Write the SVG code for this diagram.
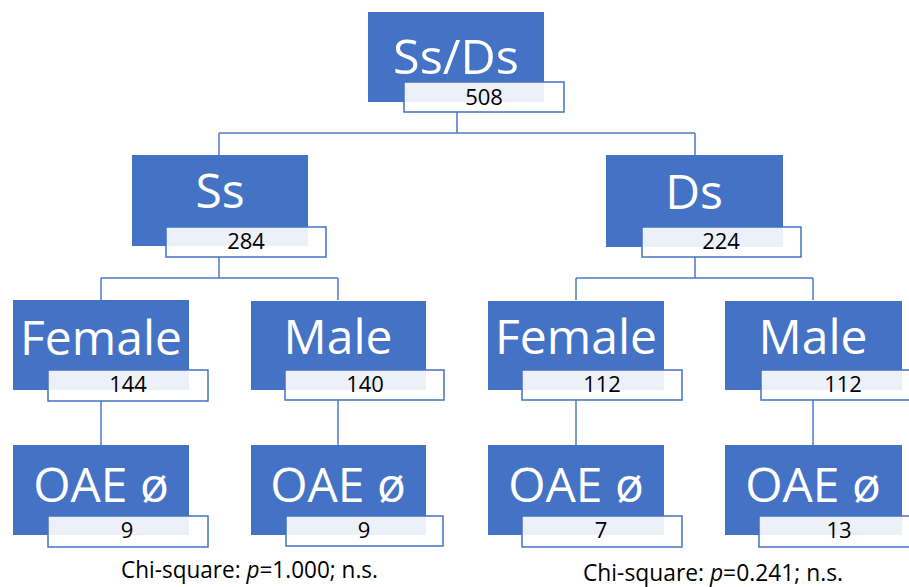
<svg xmlns="http://www.w3.org/2000/svg" width="909" height="587" viewBox="0 0 909 587">
<style>
.box{fill:#4472c4}
.lab{fill:#ffffff;fill-opacity:0.9;stroke:#4472c4;stroke-width:1.5}
.big{font-family:"Open Sans","Liberation Sans",sans-serif;font-size:48px;fill:#ffffff;text-anchor:middle}
.num{font-family:"Open Sans","Liberation Sans",sans-serif;font-size:22px;fill:#000000;text-anchor:middle}
.chi{font-family:"Open Sans","Liberation Sans",sans-serif;font-size:23px;fill:#000000}
.con{fill:none;stroke:#4f79c6;stroke-width:1.5}
</style>
<rect width="909" height="587" fill="#ffffff"/>
<g id="connectors">
<path class="con" d="M457,112 V133 M219,133 H695 M219,133 V155 M695,133 V155"/>
<path class="con" d="M219,257 V278 M101,278 H338 M101,278 V300 M338,278 V300"/>
<path class="con" d="M695,257 V278 M576,278 H813 M576,278 V300 M813,278 V300"/>
<path class="con" d="M101,400 V445 M338,400 V445 M576,400 V445 M813,400 V445"/>
</g>
<g id="root">
<rect class="box" x="368" y="12" width="176" height="90"/>
<text class="big" x="456" y="74" font-size="60" textLength="126" lengthAdjust="spacingAndGlyphs">Ss/Ds</text>
<rect class="lab" x="404" y="82" width="160" height="30"/>
<text class="num" x="484" y="105">508</text>
</g>
<g id="ss">
<rect class="box" x="132" y="155" width="176" height="91"/>
<text class="big" x="220" y="208">Ss</text>
<rect class="lab" x="166" y="227" width="160" height="30"/>
<text class="num" x="246" y="249">284</text>
</g>
<g id="ds">
<rect class="box" x="606" y="155" width="177" height="92"/>
<text class="big" x="694" y="209">Ds</text>
<rect class="lab" x="642" y="227" width="159" height="30"/>
<text class="num" x="721" y="249">224</text>
</g>
<g id="ss-female">
<rect class="box" x="13" y="300" width="176" height="90"/>
<text class="big" x="101" y="355">Female</text>
<rect class="lab" x="48" y="370" width="160" height="31"/>
<text class="num" x="128" y="392">144</text>
</g>
<g id="ss-male">
<rect class="box" x="251" y="301" width="175" height="89"/>
<text class="big" x="338" y="354">Male</text>
<rect class="lab" x="285" y="370" width="159" height="30"/>
<text class="num" x="365" y="392">140</text>
</g>
<g id="ds-female">
<rect class="box" x="488" y="301" width="176" height="89"/>
<text class="big" x="576" y="354">Female</text>
<rect class="lab" x="522" y="370" width="160" height="30"/>
<text class="num" x="602" y="392">112</text>
</g>
<g id="ds-male">
<rect class="box" x="725" y="301" width="177" height="89"/>
<text class="big" x="813" y="354">Male</text>
<rect class="lab" x="761" y="370" width="160" height="30"/>
<text class="num" x="843" y="392">112</text>
</g>
<g id="ss-female-oae">
<rect class="box" x="13" y="445" width="176" height="90"/>
<text class="big" x="101" y="502">OAE ø</text>
<rect class="lab" x="48" y="516" width="160" height="31"/>
<text class="num" x="127" y="538">9</text>
</g>
<g id="ss-male-oae">
<rect class="box" x="251" y="445" width="175" height="90"/>
<text class="big" x="338" y="502">OAE ø</text>
<rect class="lab" x="286" y="516" width="157" height="30"/>
<text class="num" x="364" y="538">9</text>
</g>
<g id="ds-female-oae">
<rect class="box" x="488" y="445" width="176" height="90"/>
<text class="big" x="576" y="502">OAE ø</text>
<rect class="lab" x="522" y="516" width="160" height="31"/>
<text class="num" x="601" y="538">7</text>
</g>
<g id="ds-male-oae">
<rect class="box" x="725" y="445" width="177" height="90"/>
<text class="big" x="813" y="502">OAE ø</text>
<rect class="lab" x="759" y="516" width="160" height="31"/>
<text class="num" x="839" y="538">13</text>
</g>
<g id="stats">
<text class="chi" x="121" y="578" textLength="257" lengthAdjust="spacingAndGlyphs">Chi-square: <tspan font-style="italic">p</tspan>=1.000; n.s.</text>
<text class="chi" x="583" y="581" textLength="260" lengthAdjust="spacingAndGlyphs">Chi-square: <tspan font-style="italic">p</tspan>=0.241; n.s.</text>
</g>
</svg>
